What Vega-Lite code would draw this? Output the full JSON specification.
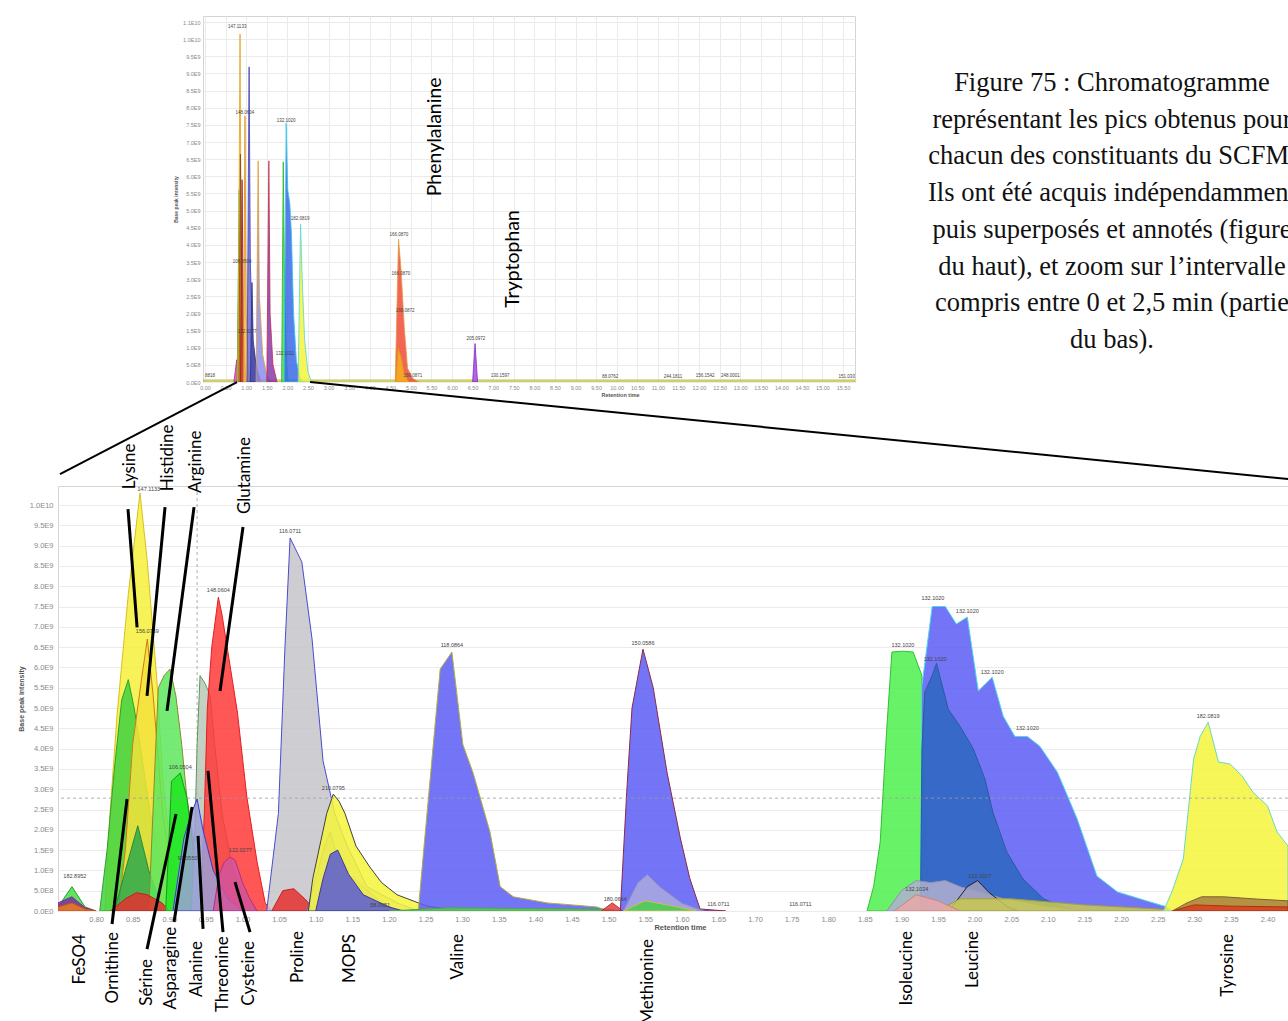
{
  "$schema": "https://vega.github.io/schema/vega-lite/v6.json",
  "background": "white",
  "padding": {"left": 16, "top": 15, "right": 0, "bottom": 0},
  "autosize": {"type": "pad"},
  "bounds": "flush",
  "spacing": 470,
  "resolve": {"scale": {"fill": "independent", "stroke": "independent", "fillOpacity": "independent"}},
  "config": {
    "font": "Liberation Sans",
    "view": {"stroke": "#d4d4d4"},
    "axis": {"labelOverlap": false, "ticks": false, "domain": false, "gridColor": "#ebebeb", "labelColor": "#8a8a8a", "titleColor": "#555555", "labelFont": "Liberation Sans", "titleFont": "Liberation Sans"}
  },
  "datasets": {
    "cap": [
      {"i": 1, "txt": "Figure 75 : Chromatogramme"},
      {"i": 2, "txt": "représentant les pics obtenus pour"},
      {"i": 3, "txt": "chacun des constituants du SCFM."},
      {"i": 4, "txt": "Ils ont été acquis indépendamment"},
      {"i": 5, "txt": "puis superposés et annotés (figure"},
      {"i": 6, "txt": "du haut), et zoom sur l’intervalle"},
      {"i": 7, "txt": "compris entre 0 et 2,5 min (partie"},
      {"i": 8, "txt": "du bas)."}
    ],
    "top": [
      {"s": "base", "t": -0.05, "v": 0.06}, {"s": "base", "t": 15.79, "v": 0.06},
      {"s": "mag", "t": 0.7, "v": 0}, {"s": "mag", "t": 0.77, "v": 0.65}, {"s": "mag", "t": 0.8, "v": 0.1}, {"s": "mag", "t": 0.85, "v": 0},
      {"s": "t_grn", "t": 0.78, "v": 0}, {"s": "t_grn", "t": 0.83, "v": 5.6}, {"s": "t_grn", "t": 0.86, "v": 2.0}, {"s": "t_grn", "t": 0.9, "v": 0.5}, {"s": "t_grn", "t": 0.95, "v": 0},
      {"s": "t_lys", "t": 0.79, "v": 0}, {"s": "t_lys", "t": 0.82, "v": 4.0}, {"s": "t_lys", "t": 0.85, "v": 10.15}, {"s": "t_lys", "t": 0.875, "v": 4.0}, {"s": "t_lys", "t": 0.91, "v": 1.0}, {"s": "t_lys", "t": 0.96, "v": 0.2}, {"s": "t_lys", "t": 1.0, "v": 0},
      {"s": "t_brn", "t": 0.82, "v": 0}, {"s": "t_brn", "t": 0.86, "v": 6.65}, {"s": "t_brn", "t": 0.89, "v": 2.0}, {"s": "t_brn", "t": 0.95, "v": 0.3}, {"s": "t_brn", "t": 0.99, "v": 0},
      {"s": "t_red", "t": 0.86, "v": 0}, {"s": "t_red", "t": 0.9, "v": 5.9}, {"s": "t_red", "t": 0.93, "v": 1.5}, {"s": "t_red", "t": 0.98, "v": 0.3}, {"s": "t_red", "t": 1.02, "v": 0},
      {"s": "t_gln", "t": 0.93, "v": 0}, {"s": "t_gln", "t": 0.97, "v": 7.76}, {"s": "t_gln", "t": 1.0, "v": 2.0}, {"s": "t_gln", "t": 1.05, "v": 0.4}, {"s": "t_gln", "t": 1.1, "v": 0},
      {"s": "t_pro", "t": 1.02, "v": 0}, {"s": "t_pro", "t": 1.07, "v": 9.19}, {"s": "t_pro", "t": 1.1, "v": 3.5}, {"s": "t_pro", "t": 1.16, "v": 1.0}, {"s": "t_pro", "t": 1.25, "v": 0.4}, {"s": "t_pro", "t": 1.35, "v": 0},
      {"s": "t_mops", "t": 1.1, "v": 0}, {"s": "t_mops", "t": 1.14, "v": 2.9}, {"s": "t_mops", "t": 1.17, "v": 1.2}, {"s": "t_mops", "t": 1.25, "v": 0.4}, {"s": "t_mops", "t": 1.35, "v": 0},
      {"s": "t_val", "t": 1.24, "v": 0}, {"s": "t_val", "t": 1.29, "v": 6.45}, {"s": "t_val", "t": 1.32, "v": 2.5}, {"s": "t_val", "t": 1.4, "v": 0.8}, {"s": "t_val", "t": 1.5, "v": 0.2}, {"s": "t_val", "t": 1.6, "v": 0},
      {"s": "t_met", "t": 1.5, "v": 0}, {"s": "t_met", "t": 1.55, "v": 6.45}, {"s": "t_met", "t": 1.58, "v": 2.0}, {"s": "t_met", "t": 1.65, "v": 0.5}, {"s": "t_met", "t": 1.75, "v": 0},
      {"s": "t_ile", "t": 1.86, "v": 0}, {"s": "t_ile", "t": 1.9, "v": 6.42}, {"s": "t_ile", "t": 1.93, "v": 3.0}, {"s": "t_ile", "t": 1.98, "v": 0.5}, {"s": "t_ile", "t": 2.02, "v": 0},
      {"s": "t_leu", "t": 1.92, "v": 0}, {"s": "t_leu", "t": 1.97, "v": 7.55}, {"s": "t_leu", "t": 2.01, "v": 5.6}, {"s": "t_leu", "t": 2.06, "v": 5.2}, {"s": "t_leu", "t": 2.1, "v": 4.3}, {"s": "t_leu", "t": 2.15, "v": 2.0}, {"s": "t_leu", "t": 2.22, "v": 0.6}, {"s": "t_leu", "t": 2.32, "v": 0.1}, {"s": "t_leu", "t": 2.4, "v": 0},
      {"s": "t_tyr", "t": 2.26, "v": 0}, {"s": "t_tyr", "t": 2.32, "v": 4.6}, {"s": "t_tyr", "t": 2.36, "v": 3.0}, {"s": "t_tyr", "t": 2.42, "v": 1.2}, {"s": "t_tyr", "t": 2.5, "v": 0.3}, {"s": "t_tyr", "t": 2.58, "v": 0},
      {"s": "t_phe", "t": 4.62, "v": 0}, {"s": "t_phe", "t": 4.7, "v": 4.17}, {"s": "t_phe", "t": 4.76, "v": 3.3}, {"s": "t_phe", "t": 4.84, "v": 1.6}, {"s": "t_phe", "t": 4.92, "v": 0.4}, {"s": "t_phe", "t": 5.05, "v": 0.1}, {"s": "t_phe", "t": 5.2, "v": 0},
      {"s": "t_phe2", "t": 4.63, "v": 0}, {"s": "t_phe2", "t": 4.69, "v": 1.0}, {"s": "t_phe2", "t": 4.76, "v": 0.75}, {"s": "t_phe2", "t": 4.84, "v": 0.25}, {"s": "t_phe2", "t": 4.95, "v": 0},
      {"s": "t_trp", "t": 6.5, "v": 0}, {"s": "t_trp", "t": 6.56, "v": 1.12}, {"s": "t_trp", "t": 6.62, "v": 0}
    ],
    "tlab": [
      {"t": 0.78, "v": 10.35, "txt": "147.1133"}, {"t": 0.97, "v": 7.85, "txt": "148.0604"}, {"t": 1.97, "v": 7.62, "txt": "132.1020"},
      {"t": 2.31, "v": 4.76, "txt": "182.0819"}, {"t": 0.9, "v": 3.5, "txt": "106.0504"}, {"t": 1.02, "v": 1.46, "txt": "122.0277"},
      {"t": 1.94, "v": 0.82, "txt": "132.1011"}, {"t": 4.71, "v": 4.3, "txt": "166.0870"}, {"t": 4.76, "v": 3.15, "txt": "166.0870"},
      {"t": 4.86, "v": 2.07, "txt": "166.0872"}, {"t": 5.05, "v": 0.17, "txt": "166.0871"}, {"t": 6.58, "v": 1.24, "txt": "205.0972"},
      {"t": 7.17, "v": 0.17, "txt": "130.1597"}, {"t": 9.84, "v": 0.14, "txt": "88.0762"}, {"t": 11.37, "v": 0.14, "txt": "244.1811"},
      {"t": 12.15, "v": 0.17, "txt": "156.1542"}, {"t": 12.76, "v": 0.17, "txt": "248.0001"}, {"t": 15.62, "v": 0.14, "txt": "151.0300"},
      {"t": 0.12, "v": 0.17, "txt": "8818"}
    ],
    "tann": [
      {"name": "Phenylalanine", "t": 5.59, "v": 7.15},
      {"name": "Tryptophan", "t": 7.48, "v": 3.59}
    ],
    "bot": [
      {"s": "fe_g", "t": 0.748, "v": 0.1}, {"s": "fe_g", "t": 0.767, "v": 0.6}, {"s": "fe_g", "t": 0.785, "v": 0.1}, {"s": "fe_g", "t": 0.8, "v": 0},
      {"s": "fe_p", "t": 0.748, "v": 0.2}, {"s": "fe_p", "t": 0.767, "v": 0.35}, {"s": "fe_p", "t": 0.785, "v": 0.08}, {"s": "fe_p", "t": 0.8, "v": 0},
      {"s": "fe_o", "t": 0.748, "v": 0.1}, {"s": "fe_o", "t": 0.767, "v": 0.2}, {"s": "fe_o", "t": 0.785, "v": 0.05}, {"s": "fe_o", "t": 0.8, "v": 0},
      {"s": "lys", "t": 0.812, "v": 0}, {"s": "lys", "t": 0.819, "v": 2.4}, {"s": "lys", "t": 0.829, "v": 4.9}, {"s": "lys", "t": 0.844, "v": 7.8}, {"s": "lys", "t": 0.86, "v": 10.3}, {"s": "lys", "t": 0.87, "v": 8.6}, {"s": "lys", "t": 0.883, "v": 5.7}, {"s": "lys", "t": 0.891, "v": 3.3}, {"s": "lys", "t": 0.901, "v": 1.6}, {"s": "lys", "t": 0.915, "v": 0.4}, {"s": "lys", "t": 0.93, "v": 0},
      {"s": "orn", "t": 0.805, "v": 0}, {"s": "orn", "t": 0.815, "v": 1.5}, {"s": "orn", "t": 0.825, "v": 3.5}, {"s": "orn", "t": 0.835, "v": 5.2}, {"s": "orn", "t": 0.844, "v": 5.7}, {"s": "orn", "t": 0.852, "v": 5.0}, {"s": "orn", "t": 0.86, "v": 4.1}, {"s": "orn", "t": 0.874, "v": 2.4}, {"s": "orn", "t": 0.887, "v": 1.2}, {"s": "orn", "t": 0.91, "v": 0},
      {"s": "his", "t": 0.83, "v": 0}, {"s": "his", "t": 0.84, "v": 1.5}, {"s": "his", "t": 0.85, "v": 4.1}, {"s": "his", "t": 0.862, "v": 5.7}, {"s": "his", "t": 0.87, "v": 6.7}, {"s": "his", "t": 0.878, "v": 5.3}, {"s": "his", "t": 0.891, "v": 2.4}, {"s": "his", "t": 0.905, "v": 0.8}, {"s": "his", "t": 0.92, "v": 0.1}, {"s": "his", "t": 0.93, "v": 0},
      {"s": "dkg", "t": 0.825, "v": 0}, {"s": "dkg", "t": 0.84, "v": 1.0}, {"s": "dkg", "t": 0.857, "v": 2.1}, {"s": "dkg", "t": 0.872, "v": 1.0}, {"s": "dkg", "t": 0.89, "v": 0.1}, {"s": "dkg", "t": 0.9, "v": 0},
      {"s": "arg", "t": 0.872, "v": 0}, {"s": "arg", "t": 0.879, "v": 3.0}, {"s": "arg", "t": 0.885, "v": 5.5}, {"s": "arg", "t": 0.893, "v": 5.8}, {"s": "arg", "t": 0.901, "v": 5.96}, {"s": "arg", "t": 0.909, "v": 5.3}, {"s": "arg", "t": 0.917, "v": 4.1}, {"s": "arg", "t": 0.924, "v": 2.8}, {"s": "arg", "t": 0.938, "v": 1.2}, {"s": "arg", "t": 0.951, "v": 0.3}, {"s": "arg", "t": 0.965, "v": 0},
      {"s": "redlow", "t": 0.82, "v": 0}, {"s": "redlow", "t": 0.84, "v": 0.3}, {"s": "redlow", "t": 0.855, "v": 0.45}, {"s": "redlow", "t": 0.87, "v": 0.4}, {"s": "redlow", "t": 0.89, "v": 0.2}, {"s": "redlow", "t": 0.9, "v": 0},
      {"s": "asn", "t": 0.895, "v": 0}, {"s": "asn", "t": 0.899, "v": 1.5}, {"s": "asn", "t": 0.903, "v": 3.2}, {"s": "asn", "t": 0.915, "v": 3.4}, {"s": "asn", "t": 0.924, "v": 2.8}, {"s": "asn", "t": 0.935, "v": 1.2}, {"s": "asn", "t": 0.946, "v": 0.2}, {"s": "asn", "t": 0.955, "v": 0},
      {"s": "thr", "t": 0.93, "v": 0}, {"s": "thr", "t": 0.935, "v": 2.0}, {"s": "thr", "t": 0.938, "v": 4.1}, {"s": "thr", "t": 0.942, "v": 5.8}, {"s": "thr", "t": 0.949, "v": 5.6}, {"s": "thr", "t": 0.956, "v": 5.3}, {"s": "thr", "t": 0.962, "v": 4.1}, {"s": "thr", "t": 0.972, "v": 2.4}, {"s": "thr", "t": 0.987, "v": 1.0}, {"s": "thr", "t": 1.006, "v": 0.3}, {"s": "thr", "t": 1.02, "v": 0},
      {"s": "gln", "t": 0.943, "v": 0}, {"s": "gln", "t": 0.948, "v": 2.5}, {"s": "gln", "t": 0.952, "v": 5.0}, {"s": "gln", "t": 0.958, "v": 6.5}, {"s": "gln", "t": 0.967, "v": 7.73}, {"s": "gln", "t": 0.972, "v": 7.3}, {"s": "gln", "t": 0.979, "v": 6.5}, {"s": "gln", "t": 0.993, "v": 4.9}, {"s": "gln", "t": 1.006, "v": 2.8}, {"s": "gln", "t": 1.02, "v": 1.2}, {"s": "gln", "t": 1.031, "v": 0.2}, {"s": "gln", "t": 1.04, "v": 0},
      {"s": "blu", "t": 0.905, "v": 0}, {"s": "blu", "t": 0.92, "v": 1.8}, {"s": "blu", "t": 0.93, "v": 2.4}, {"s": "blu", "t": 0.938, "v": 2.76}, {"s": "blu", "t": 0.946, "v": 2.0}, {"s": "blu", "t": 0.96, "v": 1.0}, {"s": "blu", "t": 0.98, "v": 0.3}, {"s": "blu", "t": 1.0, "v": 0},
      {"s": "cys", "t": 0.96, "v": 0}, {"s": "cys", "t": 0.968, "v": 0.9}, {"s": "cys", "t": 0.975, "v": 1.2}, {"s": "cys", "t": 0.983, "v": 1.33}, {"s": "cys", "t": 0.99, "v": 1.25}, {"s": "cys", "t": 1.0, "v": 0.7}, {"s": "cys", "t": 1.01, "v": 0.3}, {"s": "cys", "t": 1.02, "v": 0},
      {"s": "pro", "t": 1.033, "v": 0}, {"s": "pro", "t": 1.049, "v": 2.4}, {"s": "pro", "t": 1.058, "v": 6.5}, {"s": "pro", "t": 1.065, "v": 9.19}, {"s": "pro", "t": 1.081, "v": 8.6}, {"s": "pro", "t": 1.095, "v": 6.7}, {"s": "pro", "t": 1.11, "v": 3.7}, {"s": "pro", "t": 1.126, "v": 2.4}, {"s": "pro", "t": 1.143, "v": 1.6}, {"s": "pro", "t": 1.17, "v": 0.6}, {"s": "pro", "t": 1.211, "v": 0.2}, {"s": "pro", "t": 1.24, "v": 0},
      {"s": "redpro", "t": 1.04, "v": 0}, {"s": "redpro", "t": 1.055, "v": 0.5}, {"s": "redpro", "t": 1.07, "v": 0.55}, {"s": "redpro", "t": 1.085, "v": 0.3}, {"s": "redpro", "t": 1.1, "v": 0},
      {"s": "mops_l", "t": 1.088, "v": 0}, {"s": "mops_l", "t": 1.1, "v": 0.8}, {"s": "mops_l", "t": 1.112, "v": 1.6}, {"s": "mops_l", "t": 1.12, "v": 1.95}, {"s": "mops_l", "t": 1.13, "v": 1.3}, {"s": "mops_l", "t": 1.145, "v": 0.9}, {"s": "mops_l", "t": 1.165, "v": 0.6}, {"s": "mops_l", "t": 1.19, "v": 0.2}, {"s": "mops_l", "t": 1.21, "v": 0},
      {"s": "mops_y", "t": 1.09, "v": 0}, {"s": "mops_y", "t": 1.096, "v": 0.8}, {"s": "mops_y", "t": 1.115, "v": 2.4}, {"s": "mops_y", "t": 1.124, "v": 2.88}, {"s": "mops_y", "t": 1.132, "v": 2.7}, {"s": "mops_y", "t": 1.14, "v": 2.4}, {"s": "mops_y", "t": 1.155, "v": 1.6}, {"s": "mops_y", "t": 1.174, "v": 1.08}, {"s": "mops_y", "t": 1.19, "v": 0.7}, {"s": "mops_y", "t": 1.211, "v": 0.4}, {"s": "mops_y", "t": 1.252, "v": 0.12}, {"s": "mops_y", "t": 1.3, "v": 0},
      {"s": "mops_b", "t": 1.1, "v": 0}, {"s": "mops_b", "t": 1.11, "v": 0.8}, {"s": "mops_b", "t": 1.12, "v": 1.4}, {"s": "mops_b", "t": 1.13, "v": 1.5}, {"s": "mops_b", "t": 1.145, "v": 0.9}, {"s": "mops_b", "t": 1.165, "v": 0.4}, {"s": "mops_b", "t": 1.2, "v": 0.1}, {"s": "mops_b", "t": 1.22, "v": 0},
      {"s": "val", "t": 1.24, "v": 0}, {"s": "val", "t": 1.255, "v": 3.0}, {"s": "val", "t": 1.27, "v": 5.96}, {"s": "val", "t": 1.286, "v": 6.38}, {"s": "val", "t": 1.301, "v": 4.1}, {"s": "val", "t": 1.315, "v": 3.4}, {"s": "val", "t": 1.338, "v": 1.95}, {"s": "val", "t": 1.352, "v": 0.6}, {"s": "val", "t": 1.37, "v": 0.35}, {"s": "val", "t": 1.416, "v": 0.2}, {"s": "val", "t": 1.484, "v": 0.1}, {"s": "val", "t": 1.5, "v": 0},
      {"s": "grnb", "t": 1.2, "v": 0}, {"s": "grnb", "t": 1.28, "v": 0.08}, {"s": "grnb", "t": 1.4, "v": 0.06}, {"s": "grnb", "t": 1.5, "v": 0.04}, {"s": "grnb", "t": 1.52, "v": 0},
      {"s": "redmet", "t": 1.49, "v": 0}, {"s": "redmet", "t": 1.505, "v": 0.2}, {"s": "redmet", "t": 1.52, "v": 0},
      {"s": "met", "t": 1.516, "v": 0}, {"s": "met", "t": 1.525, "v": 3.0}, {"s": "met", "t": 1.532, "v": 5.0}, {"s": "met", "t": 1.547, "v": 6.45}, {"s": "met", "t": 1.561, "v": 5.5}, {"s": "met", "t": 1.58, "v": 3.4}, {"s": "met", "t": 1.598, "v": 1.8}, {"s": "met", "t": 1.611, "v": 0.8}, {"s": "met", "t": 1.625, "v": 0.05}, {"s": "met", "t": 1.66, "v": 0},
      {"s": "met_l", "t": 1.52, "v": 0}, {"s": "met_l", "t": 1.54, "v": 0.7}, {"s": "met_l", "t": 1.553, "v": 0.9}, {"s": "met_l", "t": 1.57, "v": 0.6}, {"s": "met_l", "t": 1.6, "v": 0.2}, {"s": "met_l", "t": 1.63, "v": 0},
      {"s": "met_g", "t": 1.52, "v": 0}, {"s": "met_g", "t": 1.55, "v": 0.25}, {"s": "met_g", "t": 1.58, "v": 0.15}, {"s": "met_g", "t": 1.62, "v": 0},
      {"s": "ile", "t": 1.853, "v": 0}, {"s": "ile", "t": 1.862, "v": 0.6}, {"s": "ile", "t": 1.871, "v": 1.7}, {"s": "ile", "t": 1.88, "v": 4.5}, {"s": "ile", "t": 1.887, "v": 6.38}, {"s": "ile", "t": 1.902, "v": 6.4}, {"s": "ile", "t": 1.916, "v": 6.38}, {"s": "ile", "t": 1.928, "v": 5.8}, {"s": "ile", "t": 1.932, "v": 3.0}, {"s": "ile", "t": 1.936, "v": 0.3}, {"s": "ile", "t": 1.94, "v": 0},
      {"s": "leu", "t": 1.926, "v": 0}, {"s": "leu", "t": 1.928, "v": 5.55}, {"s": "leu", "t": 1.942, "v": 7.5}, {"s": "leu", "t": 1.96, "v": 7.5}, {"s": "leu", "t": 1.975, "v": 7.07}, {"s": "leu", "t": 1.99, "v": 7.24}, {"s": "leu", "t": 2.005, "v": 5.42}, {"s": "leu", "t": 2.024, "v": 5.76}, {"s": "leu", "t": 2.039, "v": 4.8}, {"s": "leu", "t": 2.055, "v": 4.3}, {"s": "leu", "t": 2.072, "v": 4.3}, {"s": "leu", "t": 2.089, "v": 4.06}, {"s": "leu", "t": 2.113, "v": 3.42}, {"s": "leu", "t": 2.14, "v": 2.27}, {"s": "leu", "t": 2.167, "v": 0.86}, {"s": "leu", "t": 2.195, "v": 0.47}, {"s": "leu", "t": 2.24, "v": 0.22}, {"s": "leu", "t": 2.263, "v": 0.1}, {"s": "leu", "t": 2.27, "v": 0},
      {"s": "steel", "t": 1.926, "v": 0}, {"s": "steel", "t": 1.928, "v": 4.0}, {"s": "steel", "t": 1.932, "v": 5.4}, {"s": "steel", "t": 1.942, "v": 5.8}, {"s": "steel", "t": 1.948, "v": 6.1}, {"s": "steel", "t": 1.964, "v": 4.97}, {"s": "steel", "t": 1.98, "v": 4.55}, {"s": "steel", "t": 1.998, "v": 4.0}, {"s": "steel", "t": 2.014, "v": 3.25}, {"s": "steel", "t": 2.025, "v": 2.43}, {"s": "steel", "t": 2.044, "v": 1.45}, {"s": "steel", "t": 2.066, "v": 0.79}, {"s": "steel", "t": 2.094, "v": 0.3}, {"s": "steel", "t": 2.12, "v": 0.1}, {"s": "steel", "t": 2.14, "v": 0},
      {"s": "lav2", "t": 1.88, "v": 0}, {"s": "lav2", "t": 1.9, "v": 0.5}, {"s": "lav2", "t": 1.92, "v": 0.75}, {"s": "lav2", "t": 1.94, "v": 0.7}, {"s": "lav2", "t": 1.96, "v": 0.75}, {"s": "lav2", "t": 1.98, "v": 0.6}, {"s": "lav2", "t": 2.0, "v": 0.5}, {"s": "lav2", "t": 2.04, "v": 0.3}, {"s": "lav2", "t": 2.1, "v": 0.1}, {"s": "lav2", "t": 2.15, "v": 0},
      {"s": "tri", "t": 1.965, "v": 0}, {"s": "tri", "t": 1.99, "v": 0.6}, {"s": "tri", "t": 2.004, "v": 0.75}, {"s": "tri", "t": 2.02, "v": 0.45}, {"s": "tri", "t": 2.045, "v": 0.1}, {"s": "tri", "t": 2.06, "v": 0},
      {"s": "olive", "t": 1.95, "v": 0}, {"s": "olive", "t": 1.98, "v": 0.3}, {"s": "olive", "t": 2.05, "v": 0.3}, {"s": "olive", "t": 2.15, "v": 0.15}, {"s": "olive", "t": 2.25, "v": 0.05}, {"s": "olive", "t": 2.28, "v": 0},
      {"s": "pink", "t": 1.89, "v": 0}, {"s": "pink", "t": 1.92, "v": 0.4}, {"s": "pink", "t": 1.95, "v": 0.25}, {"s": "pink", "t": 1.98, "v": 0},
      {"s": "tyr", "t": 2.258, "v": 0}, {"s": "tyr", "t": 2.27, "v": 0.5}, {"s": "tyr", "t": 2.285, "v": 1.28}, {"s": "tyr", "t": 2.299, "v": 3.74}, {"s": "tyr", "t": 2.308, "v": 4.3}, {"s": "tyr", "t": 2.319, "v": 4.65}, {"s": "tyr", "t": 2.333, "v": 3.67}, {"s": "tyr", "t": 2.349, "v": 3.62}, {"s": "tyr", "t": 2.365, "v": 3.33}, {"s": "tyr", "t": 2.38, "v": 2.93}, {"s": "tyr", "t": 2.4, "v": 2.59}, {"s": "tyr", "t": 2.413, "v": 1.95}, {"s": "tyr", "t": 2.428, "v": 1.6},
      {"s": "brown", "t": 2.27, "v": 0}, {"s": "brown", "t": 2.29, "v": 0.2}, {"s": "brown", "t": 2.31, "v": 0.35}, {"s": "brown", "t": 2.34, "v": 0.35}, {"s": "brown", "t": 2.38, "v": 0.3}, {"s": "brown", "t": 2.428, "v": 0.25},
      {"s": "redtyr", "t": 2.27, "v": 0}, {"s": "redtyr", "t": 2.3, "v": 0.15}, {"s": "redtyr", "t": 2.35, "v": 0.12}, {"s": "redtyr", "t": 2.428, "v": 0.1}
    ],
    "blab": [
      {"t": 0.771, "v": 0.85, "txt": "182.8952"}, {"t": 0.872, "v": 10.4, "txt": "147.1133"}, {"t": 0.87, "v": 6.9, "txt": "156.0769"},
      {"t": 0.967, "v": 7.9, "txt": "148.0604"}, {"t": 1.065, "v": 9.35, "txt": "116.0711"}, {"t": 1.124, "v": 3.02, "txt": "210.0795"},
      {"t": 0.915, "v": 3.55, "txt": "106.0504"}, {"t": 0.925, "v": 1.3, "txt": "90.0550"}, {"t": 0.997, "v": 1.5, "txt": "122.0277"},
      {"t": 1.286, "v": 6.55, "txt": "118.0864"}, {"t": 1.547, "v": 6.6, "txt": "150.0586"}, {"t": 1.902, "v": 6.55, "txt": "132.1020"},
      {"t": 1.943, "v": 7.7, "txt": "132.1020"}, {"t": 1.99, "v": 7.4, "txt": "132.1020"}, {"t": 1.946, "v": 6.2, "txt": "132.1020"},
      {"t": 2.024, "v": 5.9, "txt": "132.1020"}, {"t": 2.072, "v": 4.5, "txt": "132.1020"}, {"t": 2.319, "v": 4.8, "txt": "182.0819"},
      {"t": 1.921, "v": 0.55, "txt": "132.1024"}, {"t": 2.007, "v": 0.85, "txt": "132.1027"}, {"t": 1.65, "v": 0.18, "txt": "116.0711"},
      {"t": 1.762, "v": 0.18, "txt": "116.0711"}, {"t": 1.509, "v": 0.3, "txt": "180.0664"}, {"t": 1.188, "v": 0.15, "txt": "58.0651"}
    ],
    "lead": [
      {"t": 0.8436, "v": 9.9, "t2": 0.856, "v2": 6.99},
      {"t": 0.8942, "v": 9.95, "t2": 0.8696, "v2": 5.3},
      {"t": 0.9338, "v": 9.95, "t2": 0.8969, "v2": 4.93},
      {"t": 1.0007, "v": 9.46, "t2": 0.9693, "v2": 5.42},
      {"t": 0.8423, "v": 2.76, "t2": 0.8218, "v2": -0.32},
      {"t": 0.9092, "v": 2.39, "t2": 0.8696, "v2": -0.94},
      {"t": 0.9311, "v": 2.56, "t2": 0.9065, "v2": -0.27},
      {"t": 0.9393, "v": 1.85, "t2": 0.9461, "v2": -0.44},
      {"t": 0.9529, "v": 3.45, "t2": 0.9734, "v2": -0.52},
      {"t": 0.9898, "v": 0.71, "t2": 1.0103, "v2": -0.52}
    ],
    "conn": [
      {"t": 0.9925, "v": 13.03, "t2": 0.7507, "v2": 10.76},
      {"t": 1.0923, "v": 13.03, "t2": 2.4283, "v2": 10.64}
    ],
    "ann": [
      {"g": "top", "name": "Lysine", "t": 0.8464, "v": 10.39},
      {"g": "top", "name": "Histidine", "t": 0.898, "v": 10.34},
      {"g": "top", "name": "Arginine", "t": 0.9365, "v": 10.3},
      {"g": "top", "name": "Glutamine", "t": 1.0035, "v": 9.78},
      {"g": "bot", "name": "FeSO4", "t": 0.7787, "v": -0.57},
      {"g": "bot", "name": "Ornithine", "t": 0.8228, "v": -0.52},
      {"g": "bot", "name": "Sérine", "t": 0.8693, "v": -1.18},
      {"g": "bot", "name": "Asparagine", "t": 0.9021, "v": -0.39},
      {"g": "bot", "name": "Alanine", "t": 0.9376, "v": -0.74},
      {"g": "bot", "name": "Threonine", "t": 0.9731, "v": -0.62},
      {"g": "bot", "name": "Cysteine", "t": 1.0086, "v": -0.74},
      {"g": "bot", "name": "Proline", "t": 1.076, "v": -0.49},
      {"g": "bot", "name": "MOPS", "t": 1.147, "v": -0.57},
      {"g": "bot", "name": "Valine", "t": 1.294, "v": -0.57},
      {"g": "bot", "name": "Methionine", "t": 1.554, "v": -0.69},
      {"g": "bot", "name": "Isoleucine", "t": 1.908, "v": -0.49},
      {"g": "bot", "name": "Leucine", "t": 1.998, "v": -0.49},
      {"g": "bot", "name": "Tyrosine", "t": 2.346, "v": -0.57}
    ]
  },
  "vconcat": [
    {
      "bounds": "flush",
      "spacing": 15,
      "hconcat": [
        {
          "width": 130, "height": 366,
          "view": {"stroke": null},
          "data": {"values": []},
          "mark": "point"
        },
        {
          "width": 652, "height": 366,
          "layer": [
            {
              "data": {"name": "top"},
              "mark": {"type": "area", "clip": true, "fillOpacity": 0.85, "strokeWidth": 0.8},
              "encoding": {
                "x": {"field": "t", "type": "quantitative", "scale": {"domain": [-0.05, 15.79], "nice": false, "zero": false},
                  "axis": {"values": [0, 0.5, 1, 1.5, 2, 2.5, 3, 3.5, 4, 4.5, 5, 5.5, 6, 6.5, 7, 7.5, 8, 8.5, 9, 9.5, 10, 10.5, 11, 11.5, 12, 12.5, 13, 13.5, 14, 14.5, 15, 15.5],
                    "tickCount": 500, "labelOverlap": false,
                    "format": ".2f", "labelFontSize": 5.5, "labelPadding": 3, "title": "Retention time", "titleFontSize": 5.5, "titleFontWeight": "bold", "titleX": 417, "titlePadding": 2}},
                "y": {"field": "v", "type": "quantitative", "stack": null, "scale": {"domain": [0, 10.675], "nice": false},
                  "axis": {"values": [0, 0.5, 1, 1.5, 2, 2.5, 3, 3.5, 4, 4.5, 5, 5.5, 6, 6.5, 7, 7.5, 8, 8.5, 9, 9.5, 10, 10.5],
                    "tickCount": 500, "labelOverlap": false,
                    "labelExpr": "datum.value == 0 ? '0.0E0' : datum.value >= 10.4 ? '1.1E10' : datum.value >= 10 ? format(datum.value/10, '.1f') + 'E10' : datum.value >= 1 ? format(datum.value, '.1f') + 'E9' : format(datum.value*10, '.1f') + 'E8'",
                    "labelFontSize": 5.5, "labelPadding": 3, "title": "Base peak intensity", "titleFontSize": 5, "titleFontWeight": "bold", "titlePadding": 4}},
                "fill": {"field": "s", "type": "nominal", "legend": null,
                  "scale": {"domain": ["base", "mag", "t_grn", "t_lys", "t_brn", "t_red", "t_gln", "t_pro", "t_mops", "t_val", "t_met", "t_ile", "t_leu", "t_tyr", "t_phe", "t_phe2", "t_trp"],
                    "range": ["#d8d86a", "#d050c0", "#3cc83c", "#f4e83a", "#b8702a", "#c83a3a", "#f4c040", "#6a6ad8", "#4848a8", "#8c8cf0", "#8a3aa8", "#44e044", "#3a6ae8", "#f4f43c", "#f04a3a", "#f4b020", "#a848e8"]}},
                "stroke": {"field": "s", "type": "nominal", "legend": null,
                  "scale": {"domain": ["base", "mag", "t_grn", "t_lys", "t_brn", "t_red", "t_gln", "t_pro", "t_mops", "t_val", "t_met", "t_ile", "t_leu", "t_tyr", "t_phe", "t_phe2", "t_trp"],
                    "range": ["#b8b840", "#b03090", "#2a9a2a", "#e0a020", "#8a4a10", "#9a2020", "#e09020", "#4040b0", "#303080", "#e0a030", "#c03050", "#2ab02a", "#30c8f0", "#50d8d0", "#e0a040", "#e09010", "#8030c0"]}}
              }
            },
            {
              "data": {"name": "tlab"},
              "mark": {"type": "text", "fontSize": 4.5, "color": "#444444", "baseline": "middle", "clip": true},
              "encoding": {
                "x": {"field": "t", "type": "quantitative"},
                "y": {"field": "v", "type": "quantitative"},
                "text": {"field": "txt"}
              }
            },
            {
              "data": {"name": "tann"},
              "mark": {"type": "text", "font": "Lato", "fontSize": 19.5, "angle": 270, "align": "center", "baseline": "middle", "color": "#000000"},
              "encoding": {
                "x": {"field": "t", "type": "quantitative"},
                "y": {"field": "v", "type": "quantitative"},
                "text": {"field": "name"}
              }
            }
          ]
        },
        {
          "width": 418, "height": 366,
          "view": {"stroke": null},
          "data": {"name": "cap"},
          "mark": {"type": "text", "font": "Liberation Serif", "fontSize": 26.5, "align": "center", "baseline": "middle", "dx": 33, "clip": true, "color": "#111111"},
          "encoding": {
            "y": {"field": "i", "type": "quantitative", "scale": {"domain": [-0.825, 9.144], "reverse": true, "nice": false, "zero": false}, "axis": null},
            "text": {"field": "txt"}
          }
        }
      ]
    },
    {
      "width": 1230, "height": 425,
      "layer": [
        {
          "data": {"values": [{}]},
          "mark": {"type": "rule", "color": "#9a9a9a", "strokeDash": [3, 3], "strokeWidth": 0.8},
          "encoding": {"x": {"datum": 0.938, "type": "quantitative"}}
        },
        {
          "data": {"name": "bot"},
          "mark": {"type": "area", "clip": true, "strokeWidth": 1},
          "encoding": {
            "x": {"field": "t", "type": "quantitative", "scale": {"domain": [0.748, 2.428], "nice": false, "zero": false},
              "axis": {"values": [0.8, 0.85, 0.9, 0.95, 1.0, 1.05, 1.1, 1.15, 1.2, 1.25, 1.3, 1.35, 1.4, 1.45, 1.5, 1.55, 1.6, 1.65, 1.7, 1.75, 1.8, 1.85, 1.9, 1.95, 2.0, 2.05, 2.1, 2.15, 2.2, 2.25, 2.3, 2.35, 2.4],
                "tickCount": 500, "labelOverlap": false,
                "format": ".2f", "labelFontSize": 7.5, "labelPadding": 4, "title": "Retention time", "titleFontSize": 7.5, "titleFontWeight": "bold", "titleX": 622, "titlePadding": 1}},
            "y": {"field": "v", "type": "quantitative", "stack": null, "scale": {"domain": [0, 10.47], "nice": false},
              "axis": {"values": [0, 0.5, 1, 1.5, 2, 2.5, 3, 3.5, 4, 4.5, 5, 5.5, 6, 6.5, 7, 7.5, 8, 8.5, 9, 9.5, 10],
                "tickCount": 500, "labelOverlap": false,
                "labelExpr": "datum.value == 0 ? '0.0E0' : datum.value >= 10.4 ? '1.1E10' : datum.value >= 10 ? format(datum.value/10, '.1f') + 'E10' : datum.value >= 1 ? format(datum.value, '.1f') + 'E9' : format(datum.value*10, '.1f') + 'E8'",
                "labelFontSize": 7.5, "labelPadding": 5, "title": "Base peak intensity", "titleFontSize": 7, "titleFontWeight": "bold", "titlePadding": 5}},
            "fill": {"field": "s", "type": "nominal", "legend": null,
              "scale": {"domain": ["fe_g", "fe_p", "fe_o", "lys", "orn", "his", "dkg", "arg", "redlow", "asn", "thr", "gln", "blu", "cys", "pro", "redpro", "mops_l", "mops_y", "mops_b", "val", "grnb", "redmet", "met", "met_l", "met_g", "ile", "leu", "steel", "lav2", "tri", "olive", "pink", "tyr", "brown", "redtyr"],
                "range": ["#44e044", "#7a2fa0", "#f07a20", "#f4f03a", "#3fd23f", "#f2e23c", "#2ea84c", "#5de65d", "#e53030", "#1fe61f", "#b8c8b8", "#ff3838", "#9aa0d8", "#d2559e", "#c6c6ca", "#e53030", "#a4a4d4", "#f4f43c", "#5a5ad6", "#5c5cf6", "#5cc85c", "#e04040", "#5c5cf6", "#a9a9e0", "#46d046", "#4ef04e", "#5c5cf6", "#2d68c0", "#b0b0d0", "#a0a0c0", "#c8c850", "#e8a8a8", "#f5f53c", "#a88040", "#d84020"]}},
            "stroke": {"field": "s", "type": "nominal", "legend": null,
              "scale": {"domain": ["fe_g", "fe_p", "fe_o", "lys", "orn", "his", "dkg", "arg", "redlow", "asn", "thr", "gln", "blu", "cys", "pro", "redpro", "mops_l", "mops_y", "mops_b", "val", "grnb", "redmet", "met", "met_l", "met_g", "ile", "leu", "steel", "lav2", "tri", "olive", "pink", "tyr", "brown", "redtyr"],
                "range": ["#2a9a2a", "#7a2fa0", "#d05010", "#d8c020", "#2fa02f", "#d07a1a", "#2a8a3a", "#8a8a30", "#c02020", "#1a9a1a", "#5a9a5a", "#e02020", "#3a3ad0", "#b03080", "#4a4ad0", "#c02020", "#6a6ab0", "#404040", "#3a3a9a", "#b0b040", "#4aa84a", "#c03030", "#8a2a4a", "#8a8ac0", "#d0c040", "#30c030", "#4ad8e8", "#2a5aa0", "#9090b0", "#202020", "#a0a040", "#d08080", "#6cd8c0", "#806030", "#b03010"]}},
            "fillOpacity": {"field": "s", "type": "ordinal", "legend": null,
              "scale": {"domain": ["fe_g", "fe_p", "fe_o", "lys", "orn", "his", "dkg", "arg", "redlow", "asn", "thr", "gln", "blu", "cys", "pro", "redpro", "mops_l", "mops_y", "mops_b", "val", "grnb", "redmet", "met", "met_l", "met_g", "ile", "leu", "steel", "lav2", "tri", "olive", "pink", "tyr", "brown", "redtyr"],
                "range": [0.85, 0.85, 0.85, 0.9, 0.85, 0.8, 0.8, 0.85, 0.85, 0.85, 0.8, 0.85, 0.3, 0.85, 0.9, 0.85, 0.85, 0.9, 0.75, 0.9, 0.85, 0.85, 0.9, 0.85, 0.85, 0.9, 0.9, 0.9, 0.7, 0.55, 0.85, 0.7, 0.9, 0.85, 0.85]}}
          }
        },
        {
          "data": {"values": [{}]},
          "mark": {"type": "rule", "color": "#9a9a9a", "strokeDash": [3, 3], "strokeWidth": 0.8},
          "encoding": {"y": {"datum": 2.78, "type": "quantitative"}}
        },
        {
          "data": {"name": "blab"},
          "mark": {"type": "text", "fontSize": 5.5, "color": "#444444", "baseline": "middle", "clip": true},
          "encoding": {
            "x": {"field": "t", "type": "quantitative"},
            "y": {"field": "v", "type": "quantitative"},
            "text": {"field": "txt"}
          }
        },
        {
          "data": {"name": "lead"},
          "mark": {"type": "rule", "color": "#000000", "strokeWidth": 3},
          "encoding": {
            "x": {"field": "t", "type": "quantitative"},
            "y": {"field": "v", "type": "quantitative"},
            "x2": {"field": "t2"},
            "y2": {"field": "v2"}
          }
        },
        {
          "data": {"name": "conn"},
          "mark": {"type": "rule", "color": "#000000", "strokeWidth": 2},
          "encoding": {
            "x": {"field": "t", "type": "quantitative"},
            "y": {"field": "v", "type": "quantitative"},
            "x2": {"field": "t2"},
            "y2": {"field": "v2"}
          }
        },
        {
          "data": {"name": "ann"},
          "transform": [{"filter": "datum.g == 'top'"}],
          "mark": {"type": "text", "font": "Lato", "fontSize": 17, "angle": 270, "align": "left", "baseline": "middle", "color": "#000000"},
          "encoding": {
            "x": {"field": "t", "type": "quantitative"},
            "y": {"field": "v", "type": "quantitative"},
            "text": {"field": "name"}
          }
        },
        {
          "data": {"name": "ann"},
          "transform": [{"filter": "datum.g == 'bot'"}],
          "mark": {"type": "text", "font": "Lato", "fontSize": 17, "angle": 270, "align": "right", "baseline": "middle", "color": "#000000"},
          "encoding": {
            "x": {"field": "t", "type": "quantitative"},
            "y": {"field": "v", "type": "quantitative"},
            "text": {"field": "name"}
          }
        }
      ]
    }
  ]
}
